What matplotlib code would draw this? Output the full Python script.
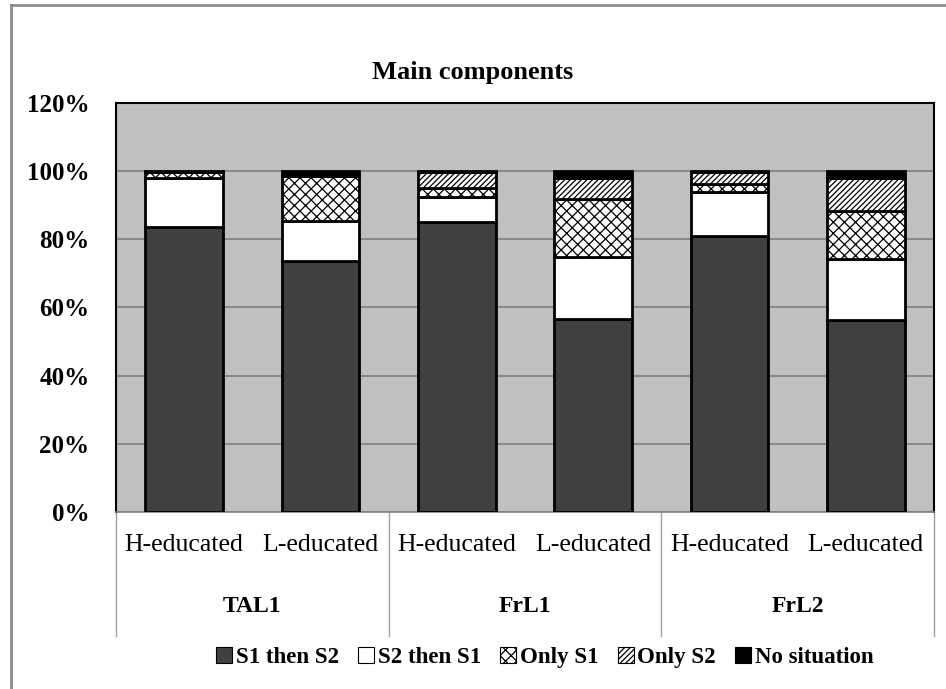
import matplotlib
matplotlib.use("Agg")
import matplotlib.pyplot as plt
import numpy as np
from matplotlib.lines import Line2D
from matplotlib.patches import Patch
from matplotlib.ticker import PercentFormatter

# stacked shares per (group, education level), in percent
groups = ["TAL1", "FrL1", "FrL2"]
levels = ["H-educated", "L-educated"]
s1_then_s2 = [83.5, 73.6, 84.9, 56.5, 81.0, 56.2]
s2_then_s1 = [14.4, 11.6, 7.5, 18.3, 12.9, 17.9]
only_s1 = [1.8, 13.2, 2.6, 17.0, 2.3, 14.0]
only_s2 = [0.0, 0.0, 4.6, 6.1, 3.4, 9.8]
no_situation = [0.3, 1.6, 0.4, 2.1, 0.4, 2.1]
series_names = ["S1 then S2", "S2 then S1", "Only S1", "Only S2", "No situation"]

plt.rcParams["font.family"] = ["Liberation Serif", "DejaVu Serif"]
plt.rcParams["hatch.linewidth"] = 0.9

series = [s1_then_s2, s2_then_s1, only_s1, only_s2, no_situation]
faces = ["#404040", "white", "white", "white", "black"]
hatches = [None, None, "xxx", "//////", None]

fig = plt.figure(figsize=(9.46, 6.89), dpi=100)
ax = fig.add_axes([0.1226, 0.2569, 0.8647, 0.5941])
ax.set_facecolor("#c0c0c0")

x = np.arange(len(groups) * len(levels))
bottom = np.zeros(len(x))
for vals, fc, h, name in zip(series, faces, hatches, series_names):
    v = np.array(vals) / 100
    ax.bar(x, v, 0.57, bottom=bottom, color=fc, edgecolor="black",
           linewidth=2, hatch=h, label=name, zorder=3)
    bottom += v

ax.set_xlim(-0.5, len(x) - 0.5)
ax.set_ylim(0, 1.2)
ax.set_yticks(np.arange(0, 1.21, 0.2))
ax.yaxis.set_major_formatter(PercentFormatter(1.0, decimals=0))
ax.grid(axis="y", color="#808080", linewidth=1.2, zorder=0)
ax.set_xticks([])
ax.tick_params(axis="y", length=0, pad=19, labelsize=18)
for lab in ax.get_yticklabels():
    lab.set_fontweight("bold")
for side in ["top", "left", "right"]:
    ax.spines[side].set_linewidth(1.5)
ax.spines["bottom"].set_color("#808080")
ax.spines["bottom"].set_linewidth(1.2)

# two-level category axis under the plot
trans = ax.get_xaxis_transform()
for i in range(len(x)):
    ax.text(x[i], -0.081, levels[i % 2], transform=trans, ha="center",
            va="center", fontsize=18.5)
for g, name in enumerate(groups):
    ax.text(2 * g + 0.5, -0.23, name, transform=trans, ha="center",
            va="center", fontsize=17, fontweight="bold")
for xd in [-0.5, 1.5, 3.5, 5.5]:
    ax.add_line(Line2D([xd, xd], [0, -0.303], transform=trans,
                       color="#a0a0a0", linewidth=1, clip_on=False))

fig.text(0.5, 1 - 72 / 689, "Main components", ha="center", va="center",
         fontsize=19, fontweight="bold")

handles = [Patch(facecolor=fc, edgecolor="black", hatch=h, linewidth=0.8)
           for fc, h in zip(faces, hatches)]
fig.legend(handles, series_names, loc="center", bbox_to_anchor=(0.576, 0.046),
           ncol=5, frameon=False, handlelength=0.7, handleheight=0.7,
           handletextpad=0.15, columnspacing=0.85,
           prop={"size": 16.5, "weight": "bold"})

# outer chart frame
fig.add_artist(Line2D([11 / 946, 11 / 946], [0, 1 - 5 / 689],
                      color="#8c8c8c", linewidth=2))
fig.add_artist(Line2D([11 / 946, 1], [1 - 5 / 689, 1 - 5 / 689],
                      color="#8c8c8c", linewidth=2))

fig.savefig("out.png", dpi=100)
